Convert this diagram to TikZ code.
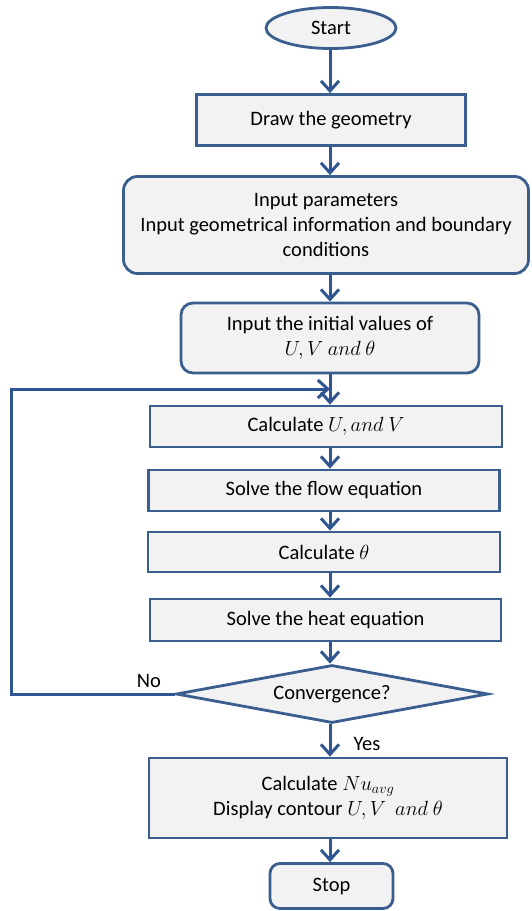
\RequirePackage{fix-cm}
\documentclass[tikz,border=0pt]{standalone}
\usepackage{fontspec}
\setmainfont{Carlito}
\usetikzlibrary{shapes.geometric,arrows.meta}
\definecolor{bord}{HTML}{3A5F8F}
\definecolor{arrcol}{HTML}{2F5690}
\definecolor{boxfill}{HTML}{F2F2F2}
\begin{document}
\begin{tikzpicture}[x=1pt,y=-1pt,
  font=\fontsize{20.5}{25}\selectfont,
  base/.style={draw=bord, line width=2.8pt, fill=boxfill, inner sep=0pt, align=center},
  rbox/.style={base, rectangle},
  rrbox/.style={base, rectangle, rounded corners=14pt},
  flowline/.style={draw=arrcol, line width=3pt, -{Straight Barb[length=10pt,width=18pt,line width=3pt]}}
]
\fill[white] (0,0) rectangle (531,911);
\useasboundingbox (0,0) rectangle (531,911);
\coordinate (axis) at (330,0);

\node[base, ellipse, minimum width=130pt, minimum height=41pt] (start) at (331,28) {Start};
\node[rbox, minimum width=269pt, minimum height=51pt] (geom) at (331,120) {Draw the geometry};
\node[rrbox, minimum width=405pt, minimum height=97pt] (param) at (326,225)
  {Input parameters\\Input geometrical information and boundary\\conditions};
\node[rrbox, rounded corners=12pt, minimum width=298pt, minimum height=70pt] (init) at (330,338)
  {Input the initial values of\\$U,V\ and\ \theta$};
\node[rbox, minimum width=352pt, minimum height=41pt] (calcuv) at (326,426.5) {Calculate $U, and\ V$};
\node[rbox, minimum width=351pt, minimum height=41pt] (flow) at (324,490.5) {Solve the flow equation};
\node[rbox, minimum width=352pt, minimum height=40pt] (theta) at (324,552) {Calculate $\theta$};
\node[rbox, minimum width=351pt, minimum height=42pt] (heat) at (325.5,620) {Solve the heat equation};
\node[base, diamond, aspect=5.38, minimum width=312pt, minimum height=58pt] (conv) at (332,694) {Convergence?};
\node[rbox, minimum width=358pt, minimum height=80pt] (nu) at (328,798)
  {Calculate $Nu_{avg}$\\Display contour $U,V\ \ and\ \theta$};
\node[rrbox, rounded corners=10pt, minimum width=123pt, minimum height=45pt] (stop) at (331.5,886) {Stop};

\node (no) at (149,681) {No};
\node (yes) at (367,744) {Yes};

\coordinate (join) at (330,389);

\draw[flowline] (start.south -| axis) -- (geom.north -| axis);
\draw[flowline] (geom.south -| axis) -- (param.north -| axis);
\draw[flowline] (param.south -| axis) -- (init.north -| axis);
\draw[flowline] (init.south -| axis) -- (calcuv.north -| axis);
\draw[flowline] (calcuv.south -| axis) -- (flow.north -| axis);
\draw[flowline] (flow.south -| axis) -- (theta.north -| axis);
\draw[flowline] (theta.south -| axis) -- (heat.north -| axis);
\draw[flowline] (heat.south -| axis) -- (conv.north -| axis);
\draw[flowline] (conv.south -| axis) -- (nu.north -| axis);
\draw[flowline] (nu.south -| axis) -- (stop.north -| axis);
\draw[flowline] (conv.west) -- ++(-163,0) |- (join);
\end{tikzpicture}
\end{document}
